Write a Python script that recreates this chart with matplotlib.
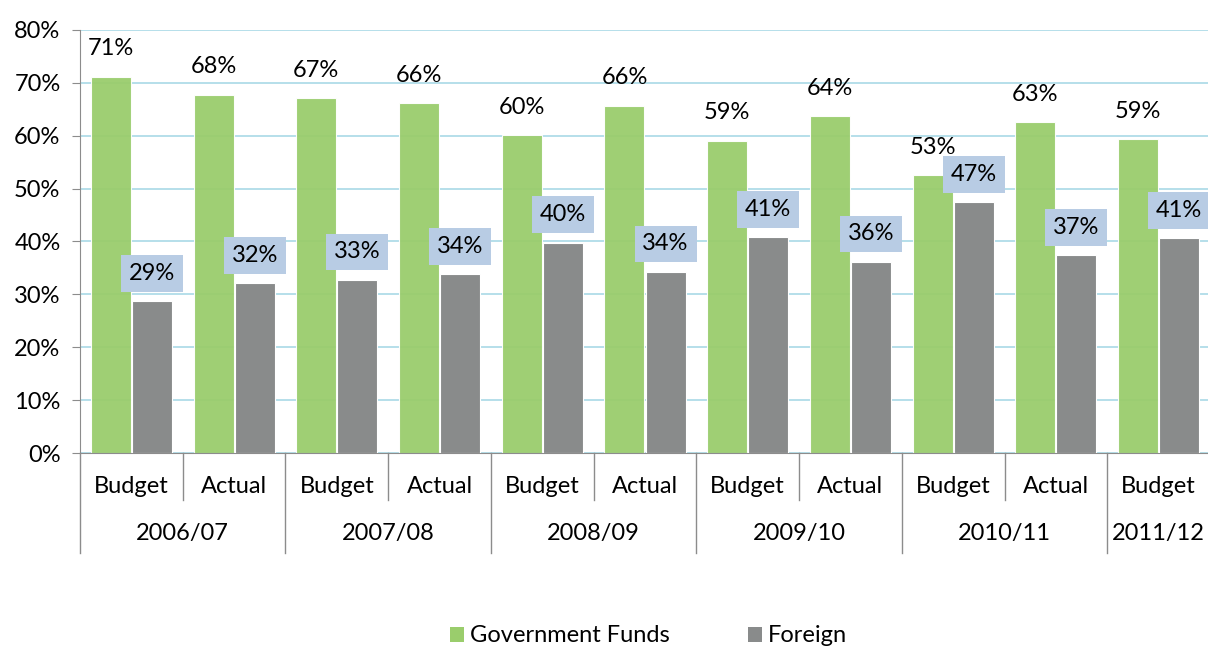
import matplotlib
matplotlib.use("Agg")
import matplotlib.pyplot as plt
from matplotlib.patches import Patch
from matplotlib.transforms import blended_transform_factory

plt.rcParams['font.family'] = ['Lato', 'DejaVu Sans']

years = ["2006/07", "2007/08", "2008/09", "2009/10", "2010/11", "2011/12"]
categories = ["Budget", "Actual", "Budget", "Actual", "Budget", "Actual",
              "Budget", "Actual", "Budget", "Actual", "Budget"]
gov_funds = [71.2, 67.8, 67.1, 66.1, 60.1, 65.7, 59.1, 63.7, 52.6, 62.6, 59.4]
foreign = [28.7, 32.1, 32.8, 33.8, 39.8, 34.3, 40.8, 36.2, 47.4, 37.4, 40.6]
gov_labels = ["71%", "68%", "67%", "66%", "60%", "66%", "59%", "64%", "53%", "63%", "59%"]
foreign_labels = ["29%", "32%", "33%", "34%", "40%", "34%", "41%", "36%", "47%", "37%", "41%"]
yticks = [0, 10, 20, 30, 40, 50, 60, 70, 80]

green = "#9ACD6C"
gray = "#898B8B"
grid_c = "#A9D9E6"
box_c = "#B8CCE4"
FS = 17

fig = plt.figure(figsize=(12.08, 6.46), dpi=100)
ax = fig.add_axes([80/1208, 1-453/646, 1130/1208, 423/646])

n = len(categories)
xs = list(range(n))
w = 0.39
ax.bar([x - 0.2 for x in xs], gov_funds, width=w, color=green, alpha=0.95,
       edgecolor="white", linewidth=0.8, zorder=2)
ax.bar([x + 0.2 for x in xs], foreign, width=w, color=gray,
       edgecolor="white", linewidth=0.8, zorder=3)

for x, v, lab in zip(xs, gov_funds, gov_labels):
    ax.annotate(lab, (x - 0.2, v), xytext=(0, 20), textcoords="offset points",
                ha="center", va="center", fontsize=FS, color="black", zorder=5)
for x, v, lab in zip(xs, foreign, foreign_labels):
    ax.annotate(lab, (x + 0.2, v), xytext=(0, 20), textcoords="offset points",
                ha="center", va="center", fontsize=FS, color="black", zorder=6,
                bbox=dict(boxstyle="square,pad=0.33", fc=box_c, ec="none"))

ax.set_xlim(-0.5, n - 0.5)
ax.set_ylim(0, 80)
ax.set_yticks(yticks)
ax.set_yticklabels([f"{t}%" for t in yticks], fontsize=FS)
ax.yaxis.grid(True, color=grid_c, linewidth=1.2, zorder=0)
ax.set_axisbelow(True)
ax.set_xticks([])
for s in ["top", "right"]:
    ax.spines[s].set_visible(False)
ax.spines["left"].set_color("#8C8C8C")
ax.spines["bottom"].set_color("#8C8C8C")
ax.tick_params(axis="y", length=6, color="#8C8C8C", pad=8)

tr = blended_transform_factory(ax.transData, ax.transAxes)
for x, c in zip(xs, categories):
    ax.text(x, -0.08, c, transform=tr, ha="center", va="center", fontsize=FS)
for i, y in enumerate(years):
    start = 2 * i - 0.5
    end = min(2 * i + 1.5, n - 0.5)
    ax.text((start + end) / 2, -0.19, y, transform=tr, ha="center", va="center", fontsize=FS)
    ax.plot([start, start], [0, -0.236], transform=tr, color="#8C8C8C", lw=1, clip_on=False)
    if 2 * i + 1 < n:
        ax.plot([start + 1, start + 1], [0, -0.111], transform=tr, color="#8C8C8C", lw=1, clip_on=False)

handles = [Patch(facecolor=green, label="Government Funds"),
           Patch(facecolor=gray, label="Foreign")]
fig.legend(handles=handles, loc="center", bbox_to_anchor=(0.537, 1 - 636/646), ncol=2,
           frameon=False, fontsize=FS, handlelength=0.6, handleheight=0.6,
           handletextpad=0.25, columnspacing=3.3)

fig.savefig("out.png", dpi=100)
